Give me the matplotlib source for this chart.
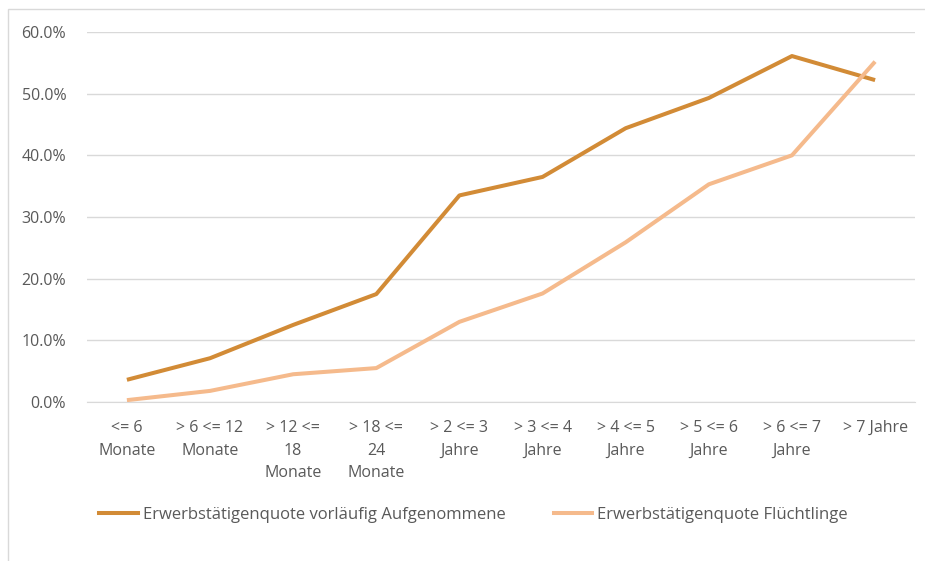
import matplotlib
matplotlib.use("Agg")
import matplotlib.pyplot as plt
from matplotlib.patches import Rectangle
from matplotlib.lines import Line2D
from matplotlib.ticker import FuncFormatter, MultipleLocator

categories = ["<= 6\nMonate", "> 6 <= 12\nMonate", "> 12 <=\n18\nMonate", "> 18 <=\n24\nMonate",
              "> 2 <= 3\nJahre", "> 3 <= 4\nJahre", "> 4 <= 5\nJahre", "> 5 <= 6\nJahre",
              "> 6 <= 7\nJahre", "> 7 Jahre"]
vorlaeufig = [0.036, 0.071, 0.125, 0.175, 0.335, 0.365, 0.444, 0.493, 0.561, 0.522]
fluechtlinge = [0.003, 0.018, 0.045, 0.055, 0.130, 0.176, 0.259, 0.353, 0.400, 0.552]
series_names = ["Erwerbstätigenquote vorläufig Aufgenommene", "Erwerbstätigenquote Flüchtlinge"]

plt.rcParams['font.family'] = ['Open Sans', 'DejaVu Sans']

W, H = 925, 561
fig = plt.figure(figsize=(W / 100, H / 100), dpi=100)
fig.patch.set_facecolor("white")

# outer frame
fig.patches.append(Rectangle((8 / W, -0.01), 1.0, 1 - 9 / H + 0.01, transform=fig.transFigure,
                             fill=False, edgecolor="#d9d9d9", linewidth=1.0))

ax = fig.add_axes([87 / W, 1 - 402 / H, (915 - 87) / W, (402 - 32) / H])
x = list(range(len(categories)))
dark = "#D28B36"
light = "#F5BA8C"
ax.plot(x, vorlaeufig, color=dark, linewidth=2.9, solid_capstyle="butt", zorder=3)
ax.plot(x, fluechtlinge, color=light, linewidth=2.9, solid_capstyle="butt", zorder=3)

ax.set_xlim(-0.48, 9.48)
ax.set_ylim(0, 0.6)
ax.yaxis.set_major_locator(MultipleLocator(0.1))
ax.yaxis.set_major_formatter(FuncFormatter(lambda v, p: f"{v*100:.1f}%"))
ax.grid(axis="y", color="#d9d9d9", linewidth=1.0)
ax.set_axisbelow(True)
for s in ["top", "right", "left"]:
    ax.spines[s].set_visible(False)
ax.spines["bottom"].set_color("#d9d9d9")
ax.set_xticks(x)
ax.set_xticklabels(categories, linespacing=1.55)
ax.tick_params(axis="both", length=0, labelsize=11.5, labelcolor="#595959")
ax.tick_params(axis="x", pad=13)
ax.tick_params(axis="y", pad=15)

handles = [Line2D([0], [0], color=dark, linewidth=2.9), Line2D([0], [0], color=light, linewidth=2.9)]
fig.legend(handles, series_names, loc="center", bbox_to_anchor=(473.5 / W, 1 - 515 / H), ncol=2,
           frameon=False, fontsize=12, labelcolor="#595959", handlelength=2.3,
           handletextpad=0.3, columnspacing=2.9)

fig.savefig("out.png", dpi=100, facecolor="white")
